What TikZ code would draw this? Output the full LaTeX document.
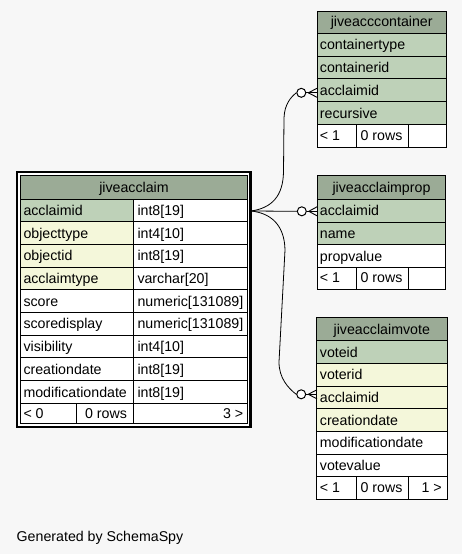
\documentclass[tikz,border=0pt]{standalone}
\usepackage{fontspec}
\setmainfont{Liberation Sans}
\definecolor{bgc}{HTML}{F7F7F7}
\definecolor{hdr}{HTML}{9BAB96}
\definecolor{pk}{HTML}{BED1B8}
\definecolor{idx}{HTML}{F4F7DA}
\tikzset{
  fnt/.style={font=\fontsize{14.2}{16}\selectfont},
  txt/.style={fnt, anchor=base west, inner sep=0pt},
  ctxt/.style={fnt, anchor=base, inner sep=0pt},
  rtxt/.style={fnt, anchor=base east, inner sep=0pt},
  cell/.style={draw=black, line width=1pt},
  conn/.style={draw=black, line width=0.8pt},
  odot/.style={circle, draw=black, fill=white, line width=1pt, minimum size=9pt, inner sep=0pt},
}
\begin{document}
\begin{tikzpicture}[x=1pt,y=-1pt]
\fill[bgc] (0,0) rectangle (462,554);
\useasboundingbox (0,0) rectangle (462,554);

% ---------------- main table jiveacclaim ----------------
\fill[white] (17,172) rectangle (250.5,427);
\draw[line width=2.6pt] (17,172) rectangle (250.5,427);
\draw[cell, fill=hdr] (20.5,175) rectangle (247.5,199);
\node[ctxt] (mh) at (134,192) {jiveacclaim};
\foreach \i/\n/\t/\c in {0/acclaimid/int8[19]/pk, 1/objecttype/int4[10]/idx, 2/objectid/int8[19]/idx, 3/acclaimtype/varchar[20]/idx, 4/score/numeric[131089]/white, 5/scoredisplay/numeric[131089]/white, 6/visibility/int4[10]/white, 7/creationdate/int8[19]/white, 8/modificationdate/int8[19]/white}{
  \pgfmathsetmacro\ya{199+22.7*\i}
  \pgfmathsetmacro\yb{\ya+22.7}
  \draw[cell, fill=\c] (20.5,\ya) rectangle (133.3,\yb);
  \draw[cell, fill=white] (133.3,\ya) rectangle (247.5,\yb);
  \node[txt] (m-\n) at (23.3,\yb-6.3) {\n};
  \node[txt] (m-\n-t) at (137.3,\yb-6.3) {\t};
}
\draw[cell, fill=white] (20.5,403.3) rectangle (76.7,423.5);
\draw[cell, fill=white] (76.7,403.3) rectangle (133.3,423.5);
\draw[cell, fill=white] (133.3,403.3) rectangle (247.5,423.5);
\node[txt] (mf1) at (23.3,418) {< 0};
\node[ctxt] (mf2) at (106,418) {0 rows};
\node[rtxt] (mf3) at (243.5,418) {3 >};
\coordinate (p) at (251,211);

% ---------------- jiveacccontainer ----------------
\draw[cell, fill=hdr] (317,11.7) rectangle (446.5,33.3);
\node[ctxt] (ch) at (381.7,27) {jiveacccontainer};
\foreach \i/\n/\c in {0/containertype/pk, 1/containerid/pk, 2/acclaimid/pk, 3/recursive/pk}{
  \pgfmathsetmacro\ya{33.3+22.75*\i}
  \pgfmathsetmacro\yb{\ya+22.75}
  \draw[cell, fill=\c] (317,\ya) rectangle (446.5,\yb);
  \node[txt] (c-\n) at (319.7,\yb-6.3) {\n};
}
\draw[cell, fill=white] (317,124.3) rectangle (356,147.3);
\draw[cell, fill=white] (356,124.3) rectangle (408.7,147.3);
\draw[cell, fill=white] (408.7,124.3) rectangle (446.5,147.3);
\node[txt] (cf1) at (319.7,140) {< 1};
\node[ctxt] (cf2) at (381.5,140) {0 rows};

% ---------------- jiveacclaimprop ----------------
\draw[cell, fill=hdr] (317.3,175.7) rectangle (445.7,199.3);
\node[ctxt] (ph) at (381.5,192.5) {jiveacclaimprop};
\foreach \i/\n/\c in {0/acclaimid/pk, 1/name/pk, 2/propvalue/white}{
  \pgfmathsetmacro\ya{199.3+22.7*\i}
  \pgfmathsetmacro\yb{\ya+22.7}
  \draw[cell, fill=\c] (317.3,\ya) rectangle (445.7,\yb);
  \node[txt] (p-\n) at (319.7,\yb-6.3) {\n};
}
\draw[cell, fill=white] (317.3,267.4) rectangle (356,289.3);
\draw[cell, fill=white] (356,267.4) rectangle (408.7,289.3);
\draw[cell, fill=white] (408.7,267.4) rectangle (445.7,289.3);
\node[txt] (pf1) at (319.7,282.5) {< 1};
\node[ctxt] (pf2) at (381.5,282.5) {0 rows};

% ---------------- jiveacclaimvote ----------------
\draw[cell, fill=hdr] (316.7,317.3) rectangle (447,340.7);
\node[ctxt] (vh) at (381.8,334) {jiveacclaimvote};
\foreach \i/\n/\c in {0/voteid/pk, 1/voterid/idx, 2/acclaimid/idx, 3/creationdate/idx, 4/modificationdate/white, 5/votevalue/white}{
  \pgfmathsetmacro\ya{340.7+22.7*\i}
  \pgfmathsetmacro\yb{\ya+22.7}
  \draw[cell, fill=\c] (316.7,\ya) rectangle (447,\yb);
  \node[txt] (v-\n) at (319.7,\yb-6.3) {\n};
}
\draw[cell, fill=white] (316.7,476.9) rectangle (356,499.3);
\draw[cell, fill=white] (356,476.9) rectangle (408.7,499.3);
\draw[cell, fill=white] (408.7,476.9) rectangle (447,499.3);
\node[txt] (vf1) at (319.7,492.5) {< 1};
\node[ctxt] (vf2) at (381.5,492.5) {0 rows};
\node[rtxt] (vf3) at (442,492.5) {1 >};

% ---------------- connectors ----------------
\node[odot] (o1) at (301.3,92.8) {};
\node[odot] (o2) at (301.8,211.3) {};
\node[odot] (o3) at (301.2,394.3) {};

\draw[conn] (p) .. controls (272,208) and (283,196) .. (283.5,172)
  -- (284,118) .. controls (284.5,104) and (291,97) .. (o1.west);
\draw[conn] (p) -- (o2.west);
\draw[conn] (p) .. controls (270,213) and (284.5,224) .. (285,250)
  -- (279,362) .. controls (279,378) and (288,388) .. (o3.west);

\foreach \o/\y in {o1/92.8, o2/211.3, o3/394.3}{
  \draw[line width=0.9pt] (\o.east) -- (317,\y);
  \draw[line width=0.9pt] ([xshift=2pt]\o.east) -- (317,\y-4.5);
  \draw[line width=0.9pt] ([xshift=2pt]\o.east) -- (317,\y+4.5);
}

% ---------------- footer ----------------
\node[txt] (gen) at (16.5,541.5) {Generated by SchemaSpy};
\end{tikzpicture}
\end{document}
